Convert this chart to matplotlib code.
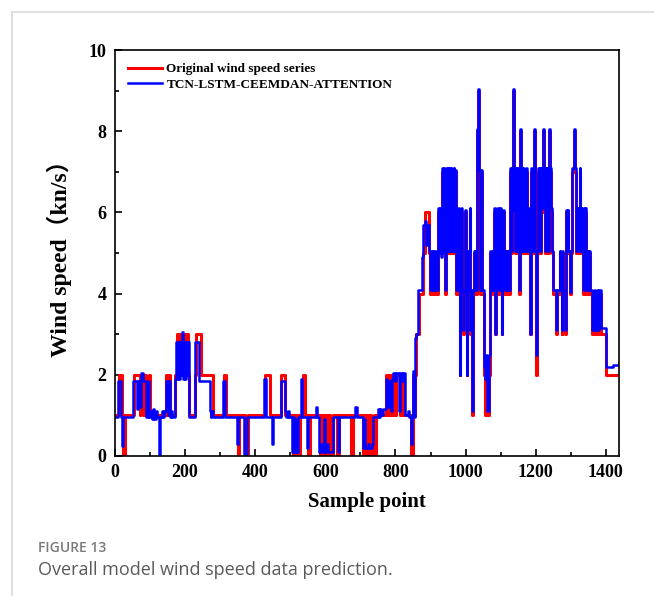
import matplotlib
matplotlib.use('Agg')
import matplotlib.pyplot as plt
from matplotlib.lines import Line2D
from matplotlib.ticker import MultipleLocator

# (sample where the value starts, value), step data
orig_steps = [
    (0, 1), (12, 2), (20, 1), (22, 0), (30, 1), (53, 2), (71, 1), (75, 2), (82, 1), (84, 2), (89, 1),
    (96, 2), (100, 1), (146, 2), (149, 1), (152, 2), (157, 1),
    (170, 2), (176, 3), (179, 2), (182, 3), (185, 2), (188, 3), (191, 2), (194, 3), (197, 2),
    (200, 3), (203, 2), (206, 3), (209, 2), (212, 1),
    (229, 2), (231, 3), (246, 2), (279, 1), (310, 2), (317, 1),
    (350, 0), (355, 1), (370, 0), (379, 1), (427, 2), (441, 1), (474, 2), (484, 1),
    (507, 0), (511, 1), (514, 0), (519, 1), (522, 0), (527, 1), (536, 2), (543, 1), (550, 0), (555, 1),
    (584, 0), (590, 1), (594, 0), (600, 1), (604, 0), (610, 1), (614, 0), (622, 1), (634, 0), (639, 1),
    (674, 0), (679, 1), (708, 0), (714, 1), (718, 0), (726, 1), (730, 0), (738, 1), (741, 0), (744, 1),
    (774, 2), (779, 1), (784, 2), (788, 1), (793, 2), (800, 1), (803, 2), (812, 1), (818, 2), (822, 1),
    (845, 0), (849, 1), (851, 2), (855, 1), (857, 2), (860, 3), (866, 4), (878, 5), (884, 6),
    (896, 5), (899, 4), (902, 5), (905, 4), (908, 5), (911, 4), (914, 5), (917, 4), (920, 5),
    (922, 6), (925, 5), (928, 6), (930, 5), (933, 7), (936, 5), (938, 7), (941, 4), (944, 5),
    (946, 7), (948, 5), (950, 7), (952, 5), (954, 7), (956, 5), (958, 7), (960, 5), (962, 7),
    (964, 5), (966, 7), (968, 5), (970, 7), (972, 5), (974, 4), (978, 6), (981, 4), (983, 2),
    (985, 4), (988, 6), (991, 4), (993, 3), (995, 4), (998, 6), (1001, 4), (1003, 2), (1005, 5),
    (1008, 4), (1010, 5), (1012, 6), (1014, 3), (1016, 4), (1019, 1), (1021, 4), (1024, 5),
    (1026, 4), (1028, 5), (1030, 4), (1032, 5), (1033, 8), (1035, 9), (1039, 7), (1041, 4),
    (1045, 7), (1048, 4), (1052, 2), (1055, 1), (1059, 2), (1062, 1), (1066, 2), (1070, 5),
    (1074, 4), (1077, 5), (1080, 4), (1082, 6), (1085, 3), (1088, 4), (1091, 6), (1094, 4),
    (1097, 6), (1100, 4), (1103, 3), (1105, 4), (1108, 6), (1111, 5), (1113, 4), (1115, 5),
    (1117, 4), (1119, 5), (1121, 4), (1123, 5), (1125, 4), (1128, 7), (1131, 5), (1133, 7),
    (1135, 9), (1138, 6), (1140, 7), (1142, 5), (1144, 7), (1146, 5), (1148, 7), (1150, 5),
    (1152, 4), (1155, 8), (1158, 5), (1160, 7), (1162, 5), (1164, 7), (1166, 5), (1172, 7),
    (1175, 5), (1177, 6), (1180, 5), (1183, 3), (1186, 5), (1188, 7), (1191, 5), (1194, 8),
    (1197, 5), (1201, 2), (1204, 5), (1207, 7), (1209, 6), (1211, 7), (1213, 5), (1215, 7),
    (1217, 6), (1219, 7), (1221, 8), (1224, 6), (1226, 7), (1228, 5), (1230, 7), (1232, 6),
    (1234, 7), (1236, 5), (1238, 8), (1241, 7), (1243, 6), (1246, 5), (1249, 4), (1257, 3),
    (1260, 4), (1268, 5), (1270, 4), (1274, 3), (1276, 5), (1279, 4), (1284, 3), (1287, 6),
    (1289, 5), (1291, 6), (1293, 5), (1298, 4), (1302, 5), (1305, 7), (1308, 8), (1312, 7),
    (1315, 5), (1320, 6), (1322, 5), (1325, 7), (1327, 6), (1329, 5), (1331, 6), (1333, 5),
    (1336, 4), (1338, 6), (1340, 5), (1342, 6), (1344, 4), (1348, 5), (1350, 4), (1353, 5),
    (1355, 4), (1360, 3), (1365, 4), (1369, 3), (1376, 4), (1378, 3), (1382, 4), (1386, 3),
    (1401, 2), (1439, 2),
]

pred_steps = [
    (0, 0.95), (8, 1.85), (18, 0.95), (20, 0.25), (24, 0.95), (50, 1.85), (62, 1.15), (66, 1.85),
    (70, 1.2), (74, 2.05), (80, 1.85), (88, 0.95), (93, 1.85), (98, 0.95), (102, 1.1), (105, 0.9),
    (108, 1.15), (112, 0.9), (116, 1.1), (120, 0.95), (126, 0.0), (129, 0.95), (133, 1.1),
    (137, 0.95), (141, 1.1), (146, 1.85), (150, 1.0), (153, 1.85), (156, 0.95), (160, 1.1),
    (164, 0.95), (171, 1.9), (174, 2.8), (177, 1.9), (180, 2.8), (183, 1.9), (186, 2.8),
    (189, 2.0), (192, 3.05), (194, 1.9), (197, 2.8), (200, 1.9), (203, 2.8), (206, 2.0),
    (209, 2.8), (211, 0.95), (227, 2.0), (229, 2.8), (241, 1.85), (270, 1.1), (273, 0.95),
    (275, 1.1), (279, 0.95), (307, 1.85), (313, 0.95), (347, 0.3), (350, 0.95), (367, 0.05),
    (376, 0.95), (425, 1.9), (431, 0.95), (448, 0.3), (451, 0.95), (473, 1.85), (484, 1.1),
    (488, 0.95), (493, 1.1), (497, 0.95), (506, 0.1), (509, 0.95), (512, 0.1), (515, 0.9),
    (518, 0.1), (521, 0.95), (530, 1.9), (533, 0.95), (549, 0.2), (552, 0.95), (573, 1.2),
    (576, 0.95), (583, 0.1), (588, 0.3), (592, 0.1), (596, 0.9), (599, 0.1), (603, 0.3),
    (607, 0.1), (621, 0.95), (635, 0.1), (639, 0.95), (686, 1.2), (689, 0.95), (707, 0.2),
    (711, 0.9), (714, 0.2), (722, 0.3), (726, 0.2), (733, 0.3), (737, 0.95), (749, 1.15),
    (753, 0.95), (756, 1.15), (760, 1.0), (764, 1.15), (773, 1.9), (777, 1.2), (782, 1.85),
    (786, 1.1), (790, 1.9), (793, 2.05), (800, 1.85), (803, 2.05), (810, 1.1), (813, 2.05),
    (818, 1.85), (822, 2.05), (826, 1.0), (835, 1.1), (840, 0.95), (843, 0.3), (846, 1.0),
    (849, 2.1), (852, 0.95), (856, 2.9), (860, 3.0), (864, 4.1), (876, 4.9), (879, 5.7),
    (884, 5.8), (888, 5.2), (892, 5.7), (896, 5.05), (899, 4.1), (902, 5.05), (905, 4.1),
    (908, 5.05), (911, 4.1), (914, 5.05), (917, 4.1), (920, 5.05), (922, 6.1), (925, 5.0),
    (928, 6.1), (930, 4.9), (933, 7.1), (936, 5.05), (938, 7.1), (941, 4.1), (944, 5.05),
    (946, 7.1), (948, 5.05), (950, 7.1), (952, 5.05), (954, 7.1), (956, 5.05), (958, 7.1),
    (960, 5.05), (962, 7.05), (964, 5.05), (966, 7.1), (968, 5.05), (970, 7.05), (972, 5.05),
    (974, 4.1), (978, 6.1), (981, 4.1), (983, 2.0), (985, 4.1), (988, 6.1), (991, 4.1),
    (993, 3.1), (995, 4.1), (998, 6.05), (1001, 4.1), (1003, 2.0), (1005, 5.05), (1008, 4.1),
    (1010, 5.05), (1012, 6.1), (1014, 3.1), (1016, 4.1), (1019, 1.1), (1021, 4.1), (1024, 5.05),
    (1026, 4.1), (1028, 5.05), (1030, 4.1), (1032, 5.05), (1033, 8.05), (1035, 9.05),
    (1039, 7.05), (1041, 4.1), (1045, 7.05), (1048, 4.1), (1052, 2.2), (1055, 1.9), (1059, 2.5),
    (1062, 1.1), (1066, 2.5), (1070, 5.05), (1074, 4.1), (1077, 5.05), (1080, 4.1), (1082, 6.1),
    (1085, 3.0), (1088, 4.1), (1091, 6.1), (1094, 4.1), (1097, 6.1), (1100, 4.1), (1103, 3.0),
    (1105, 4.1), (1108, 6.05), (1111, 5.05), (1113, 4.1), (1115, 5.05), (1117, 4.1), (1119, 5.05),
    (1121, 4.1), (1123, 5.05), (1125, 4.1), (1128, 7.1), (1131, 5.05), (1133, 7.1), (1135, 9.05),
    (1138, 6.05), (1140, 7.1), (1142, 5.05), (1144, 7.1), (1146, 5.05), (1148, 7.1), (1150, 5.05),
    (1152, 4.1), (1155, 8.05), (1158, 5.05), (1160, 7.1), (1162, 5.05), (1164, 7.1), (1166, 5.05),
    (1172, 7.1), (1175, 5.05), (1177, 6.1), (1180, 5.05), (1183, 3.0), (1186, 5.05), (1188, 7.1),
    (1191, 5.05), (1194, 8.05), (1197, 5.05), (1201, 2.5), (1204, 5.05), (1207, 7.1), (1209, 6.1),
    (1211, 7.1), (1213, 5.05), (1215, 7.1), (1217, 6.1), (1219, 7.1), (1221, 8.05), (1224, 6.1),
    (1226, 7.1), (1228, 5.05), (1230, 7.1), (1232, 6.1), (1234, 7.1), (1236, 5.05), (1238, 8.05),
    (1241, 7.1), (1243, 6.1), (1246, 5.05), (1249, 4.1), (1257, 3.1), (1260, 4.1), (1268, 5.05),
    (1270, 4.1), (1274, 3.1), (1276, 5.05), (1279, 4.1), (1284, 3.1), (1287, 6.05), (1289, 5.05),
    (1291, 6.05), (1293, 5.05), (1298, 4.05), (1302, 5.05), (1305, 7.1), (1308, 8.05), (1312, 7.1),
    (1315, 5.05), (1320, 6.1), (1322, 5.05), (1325, 7.1), (1327, 6.1), (1329, 5.05), (1331, 6.1),
    (1333, 5.05), (1336, 4.1), (1338, 6.1), (1340, 5.05), (1342, 6.1), (1344, 4.1), (1348, 5.05),
    (1350, 4.1), (1353, 5.05), (1355, 4.1), (1360, 3.1), (1365, 4.1), (1369, 3.1), (1376, 4.1),
    (1378, 3.1), (1382, 4.1), (1386, 3.15), (1401, 2.2), (1420, 2.25), (1439, 2.3),
]

x_ticks = [0, 200, 400, 600, 800, 1000, 1200, 1400]
y_ticks = [0, 2, 4, 6, 8, 10]

serif = ['Liberation Serif', 'Noto Sans CJK SC']
plt.rcParams['font.family'] = serif
plt.rcParams['font.weight'] = 'bold'

fig = plt.figure(figsize=(6.54, 5.96), dpi=100)
ax = fig.add_axes([0.1758, 0.2349, 0.7714, 0.6812])

ox, oy = zip(*orig_steps)
px, py = zip(*pred_steps)
ax.plot(ox, oy, drawstyle='steps-post', color='#ff0000', lw=2.2, label='Original wind speed series')
ax.plot(px, py, drawstyle='steps-post', color='#0000ff', lw=1.8, label='TCN-LSTM-CEEMDAN-ATTENTION')

ax.set_xlim(0, 1439)
ax.set_ylim(0, 10)
ax.set_xticks(x_ticks)
ax.set_yticks(y_ticks)
ax.xaxis.set_minor_locator(MultipleLocator(100))
ax.yaxis.set_minor_locator(MultipleLocator(1))
ax.tick_params(which='both', direction='in', top=False, right=False, width=1.2)
ax.tick_params(which='major', length=5, labelsize=13, pad=6)
ax.tick_params(which='minor', length=3)
for lab in ax.get_xticklabels() + ax.get_yticklabels():
    lab.set_fontweight('bold')
for s in ax.spines.values():
    s.set_linewidth(1.2)

ax.set_xlabel('Sample point', fontsize=15, fontweight='bold', labelpad=8)
ax.set_ylabel('Wind speed（kn/s）', fontsize=17, fontweight='bold', labelpad=12)

leg = ax.legend(loc='upper left', frameon=False, fontsize=9.5, handlelength=2.6,
                handletextpad=0.3, labelspacing=0.25, borderaxespad=0.6)
for t in leg.get_texts():
    t.set_fontweight('bold')

# page frame and caption
fig.add_artist(Line2D([12 / 654, 1], [1 - 12 / 596, 1 - 12 / 596], color='#d9d9d9', lw=1.2))
fig.add_artist(Line2D([12 / 654, 12 / 654], [0, 1 - 12 / 596], color='#d9d9d9', lw=1.2))
fig.text(38 / 654, 1 - 548 / 596, 'FIGURE 13', fontsize=10, color='#7a7a7a',
         family='Open Sans', fontweight='semibold', va='center')
fig.text(38 / 654, 1 - 570 / 596, 'Overall model wind speed data prediction.', fontsize=13,
         color='#5a5a5a', family='Open Sans', fontweight='normal', va='center')

fig.savefig('out.png', dpi=100)
